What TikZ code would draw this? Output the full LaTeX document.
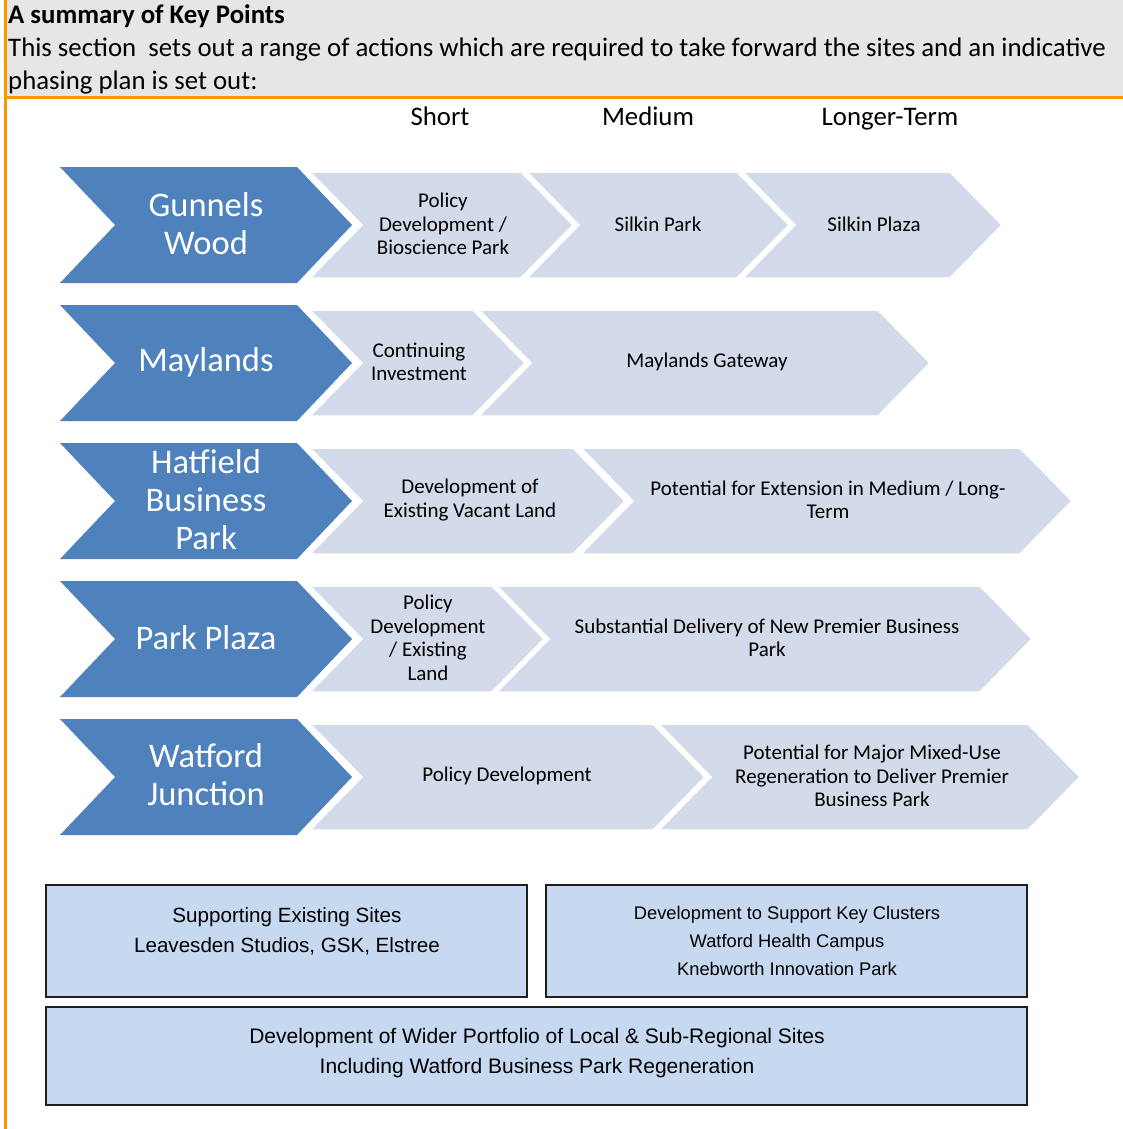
\documentclass[tikz,border=0pt]{standalone}
\usepackage{fontspec}
\setmainfont{Carlito}
\newfontfamily\boxfont{Liberation Sans}
\definecolor{hdrgray}{RGB}{230,230,230}
\definecolor{hdrorange}{RGB}{248,150,0}
\definecolor{siteblue}{RGB}{79,129,189}
\definecolor{phaselight}{RGB}{211,218,233}
\definecolor{boxblue}{RGB}{198,217,241}
\definecolor{boxedge}{RGB}{30,30,30}
\newcommand{\mychev}[6]{\path[#1] (#2,#4) -- (#3,#4) -- ({#3+#6},{(#4+#5)/2}) -- (#3,#5) -- (#2,#5) -- ({#2+#6},{(#4+#5)/2}) -- cycle;}
\tikzset{
  sitechev/.style={fill=siteblue},
  phasechev/.style={fill=phaselight, draw=white, line width=1.5pt, line join=miter},
  sitelabel/.style={text=white, font=\fontsize{34.5}{38}\selectfont, align=center, inner sep=0pt},
  phaselabel/.style={text=black, font=\fontsize{21}{23.5}\selectfont, align=center, inner sep=0pt},
  hdrtext/.style={font=\fontsize{26.8}{33}\selectfont, anchor=base west, inner sep=0pt},
  colhead/.style={font=\fontsize{26.8}{33}\selectfont, anchor=base, inner sep=0pt},
  bottombox/.style={draw=boxedge, fill=boxblue, line width=2pt, inner sep=0pt},
  boxtextA/.style={font=\boxfont\fontsize{20.6}{30}\selectfont, align=center, inner sep=0pt},
  boxtextC/.style={font=\boxfont\fontsize{21}{30}\selectfont, align=center, inner sep=0pt},
  boxtextB/.style={font=\boxfont\fontsize{18.3}{28}\selectfont, align=center, inner sep=0pt}
}
\begin{document}
\begin{tikzpicture}[x=1pt,y=-1pt]
\useasboundingbox (0,0) rectangle (1123,1129);
% header
\fill[hdrgray] (6.5,0) rectangle (1123,96);
\draw[hdrorange, line width=3pt] (4,97.5) -- (1123,97.5);
\draw[hdrorange, line width=3pt] (5,0) -- (5,1129);
\node[hdrtext, font=\fontsize{26.8}{33}\selectfont\bfseries] (title) at (8,24) {A summary of Key Points};
\node[hdrtext] (intro1) at (8,57) {This section~ sets out a range of actions which are required to take forward the sites and an indicative};
\node[hdrtext] (intro2) at (8,90) {phasing plan is set out:};
% column headings
\node[colhead] (short) at (440,126) {Short};
\node[colhead] (medium) at (648,126) {Medium};
\node[colhead] (longer) at (890,126) {Longer-Term};
% row 1
\mychev{phasechev}{743}{950}{172}{278}{52}
\mychev{phasechev}{527}{737}{172}{278}{52}
\mychev{phasechev}{310}{521}{172}{278}{52}
\mychev{sitechev}{60}{297}{167}{283}{55}
\node[sitelabel] (gunnels) at (206,224) {Gunnels\\Wood};
\node[phaselabel] (r1a) at (443,224) {Policy\\Development /\\Bioscience Park};
\node[phaselabel] (r1b) at (658,224) {Silkin Park};
\node[phaselabel] (r1c) at (874,224) {Silkin Plaza};
% row 2
\mychev{phasechev}{479}{878}{310}{416}{52}
\mychev{phasechev}{310}{473}{310}{416}{52}
\mychev{sitechev}{60}{297}{305}{421}{55}
\node[sitelabel] (maylands) at (206,362) {Maylands};
\node[phaselabel] (r2a) at (419,362) {Continuing\\Investment};
\node[phaselabel] (r2b) at (707,362) {Maylands Gateway};
% row 3
\mychev{phasechev}{581}{1020}{448}{554}{52}
\mychev{phasechev}{310}{573}{448}{554}{52}
\mychev{sitechev}{60}{297}{443}{559}{55}
\node[sitelabel] (hatfield) at (206,500) {Hatfield\\Business\\Park};
\node[phaselabel] (r3a) at (470,500) {Development of\\Existing Vacant Land};
\node[phaselabel] (r3b) at (828,500) {Potential for Extension in Medium / Long-\\Term};
% row 4
\mychev{phasechev}{497}{980}{586}{692}{52}
\mychev{phasechev}{310}{492}{586}{692}{52}
\mychev{sitechev}{60}{297}{581}{697}{55}
\node[sitelabel] (parkplaza) at (206,638) {Park Plaza};
\node[phaselabel] (r4a) at (428,638) {Policy\\Development\\/ Existing\\Land};
\node[phaselabel] (r4b) at (767,638) {Substantial Delivery of New Premier Business\\Park};
% row 5
\mychev{phasechev}{659}{1028}{724}{830}{52}
\mychev{phasechev}{310}{653}{724}{830}{52}
\mychev{sitechev}{60}{297}{719}{835}{55}
\node[sitelabel] (watford) at (206,775) {Watford\\Junction};
\node[phaselabel] (r5a) at (507,776) {Policy Development};
\node[phaselabel] (r5b) at (872,776) {Potential for Major Mixed-Use\\Regeneration to Deliver Premier\\Business Park};
% bottom boxes
\node[bottombox, minimum width=481pt, minimum height=112pt] (boxA) at (286.5,941) {};
\node[bottombox, minimum width=481pt, minimum height=112pt] (boxB) at (786.5,941) {};
\node[bottombox, minimum width=981pt, minimum height=98pt] (boxC) at (536.5,1056) {};
\node[boxtextA] (boxAtext) at (287,931) {Supporting Existing Sites\\Leavesden Studios, GSK, Elstree};
\node[boxtextB] (boxBtext) at (787,941) {Development to Support Key Clusters\\Watford Health Campus\\Knebworth Innovation Park};
\node[boxtextC] (boxCtext) at (537,1053) {Development of Wider Portfolio of Local \& Sub-Regional Sites\\Including Watford Business Park Regeneration};
\end{tikzpicture}
\end{document}
